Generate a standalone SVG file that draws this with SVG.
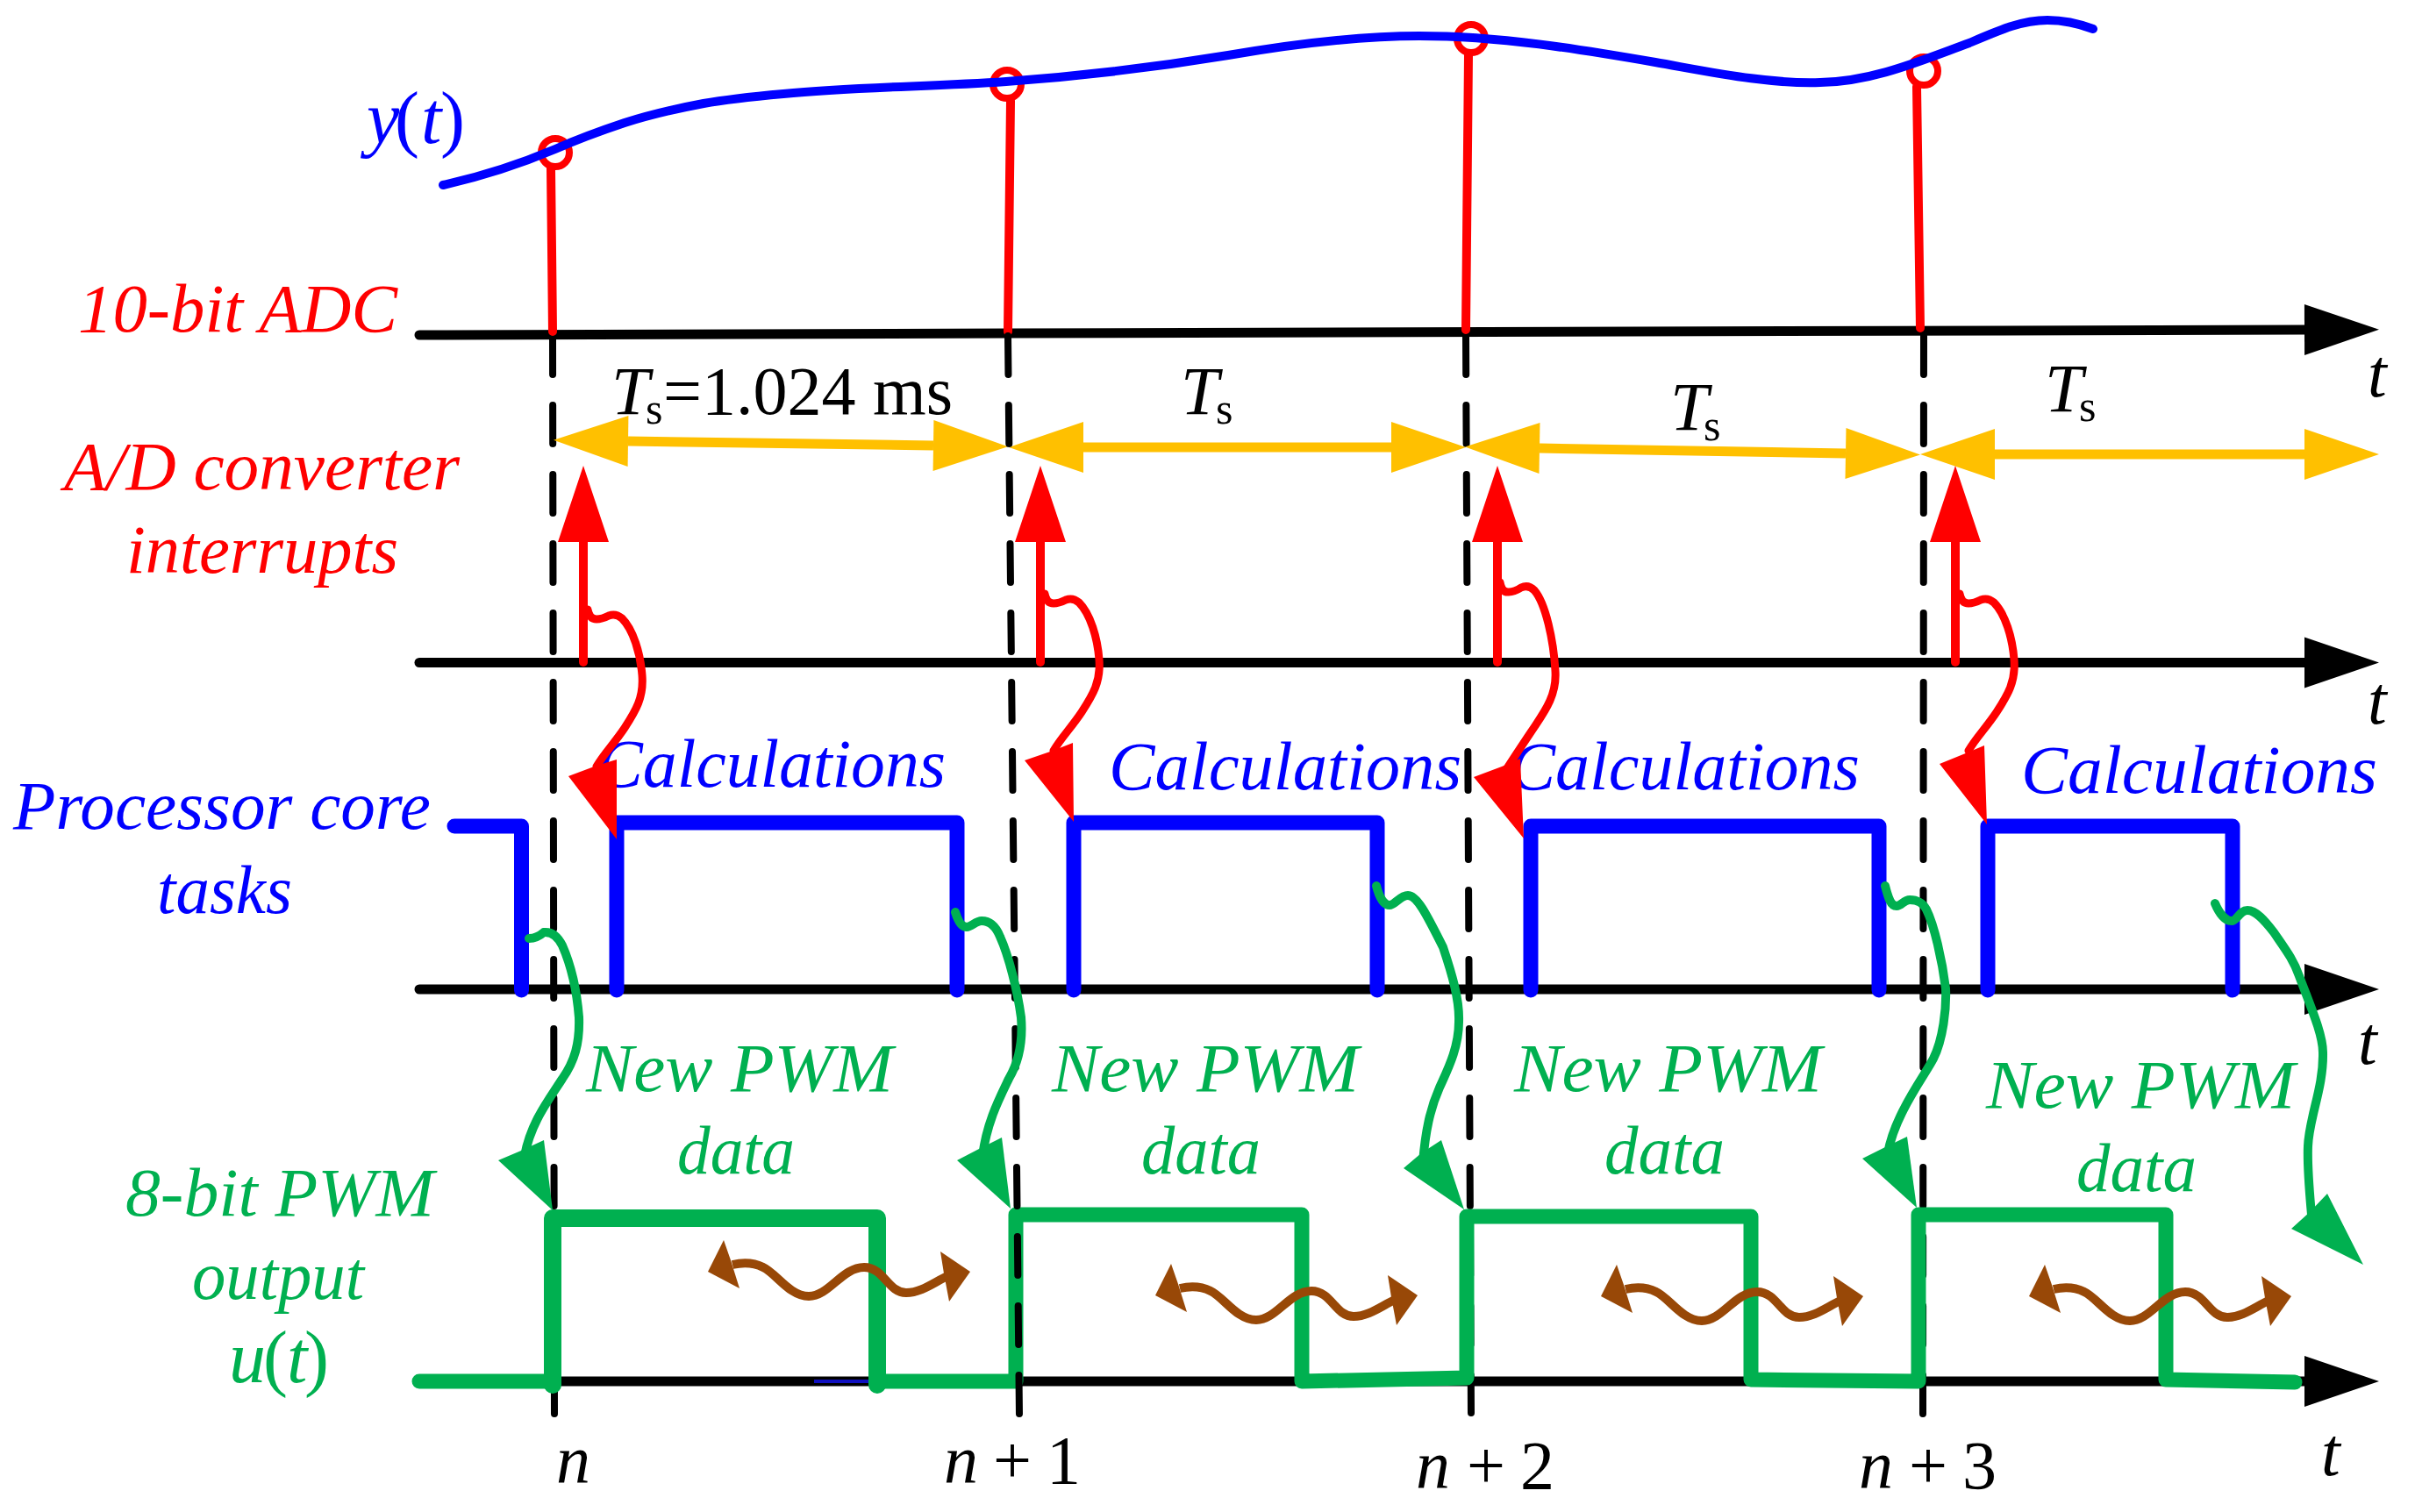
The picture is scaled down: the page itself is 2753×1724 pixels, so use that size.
<svg xmlns="http://www.w3.org/2000/svg" width="2753" height="1724" viewBox="0 0 2753 1724">
<style>
text{font-family:"Liberation Serif","Times New Roman",serif;font-size:78px;font-style:italic}
.up{font-style:normal}
.fn{font-size:84px}
.sub{font-size:50px;font-style:normal}
.bk{fill:#000}.rd{fill:#f00}.bl{fill:#00f}.gr{fill:#00b050}
.axis{fill:none;stroke:#000;stroke-width:11;stroke-linecap:round}
.dash{fill:none;stroke:#000;stroke-width:8;stroke-dasharray:44 35;stroke-linecap:round}
.stem{fill:none;stroke:#f00;stroke-width:10;stroke-linecap:round}
.ring{fill:none;stroke:#f00;stroke-width:8}
.rcurve{fill:none;stroke:#f00;stroke-width:9;stroke-linecap:round}
.gcurve{fill:none;stroke:#00b050;stroke-width:10;stroke-linecap:round}
.orange{fill:none;stroke:#ffc000;stroke-width:11;marker-start:url(#oh);marker-end:url(#oh)}
.rup{fill:none;stroke:#f00;stroke-width:10;stroke-linecap:round;marker-end:url(#ru)}
.task{fill:none;stroke:#00f;stroke-width:17;stroke-linejoin:round;stroke-linecap:round}
.pwm{fill:none;stroke:#00b050;stroke-width:17;stroke-linejoin:round;stroke-linecap:round}
</style>
<defs>
<marker id="ah" markerUnits="userSpaceOnUse" markerWidth="85" markerHeight="60" refX="0" refY="29" orient="auto" overflow="visible"><polygon points="0,0 85,29 0,58" fill="#000"/></marker>
<marker id="oh" markerUnits="userSpaceOnUse" markerWidth="85" markerHeight="60" refX="0" refY="29" orient="auto-start-reverse" overflow="visible"><polygon points="0,0 85,29 0,58" fill="#ffc000"/></marker>
<marker id="ru" markerUnits="userSpaceOnUse" markerWidth="90" markerHeight="60" refX="0" refY="29" orient="auto" overflow="visible"><polygon points="0,0 87,29 0,58" fill="#f00"/></marker>
<g id="wave">
<path d="M835 1442C848 1439 860 1440 870 1445C885 1452 900 1478 922 1478C945 1478 960 1445 985 1445C1008 1445 1012 1474 1033 1474C1050 1474 1065 1462 1080 1455" fill="none" stroke="#984807" stroke-width="10"/>
<polygon points="825,1414 807,1450 843,1469 833,1437" fill="#984807"/>
<polygon points="1106,1450 1072,1427 1076,1452 1082,1484" fill="#984807"/>
</g>
</defs>
<g id="guides-back">
<path class="dash" d="M630 383L632 1614"/>
<path class="dash" d="M1671 383L1677 1611"/>
<path class="dash" d="M2193 383L2192 1615"/>
</g>
<g id="axes">
<path class="axis" d="M478 382L1150 380L2627 376" marker-end="url(#ah)"/>
<path class="axis" d="M478 755.500L2627 755.500" marker-end="url(#ah)"/>
<path class="axis" d="M478 1128L2627 1128" marker-end="url(#ah)"/>
<path class="axis" d="M478 1575L2627 1575" marker-end="url(#ah)"/>
<path d="M928 1575H991" fill="none" stroke="#1010c0" stroke-width="4"/>
</g>
<g id="adc-samples">
<path class="stem" d="M628 192L630 378"/><circle class="ring" cx="633" cy="174" r="16"/>
<path class="stem" d="M1152 115L1149 378"/><circle class="ring" cx="1148" cy="96" r="16"/>
<path class="stem" d="M1674 63L1671 376"/><circle class="ring" cx="1677" cy="44" r="16"/>
<path class="stem" d="M2185 99L2189 374"/><circle class="ring" cx="2193" cy="81" r="16"/>
</g>
<g id="signal-y">
<path d="M505 211C550 201 595 186 633 170C660 158 685 149 712 140C740 131 770 124 802 118C830 113 860 110 893 107C975 99 1060 99 1147 93C1230 87 1315 77 1400 63C1475 50 1545 41 1618 41C1710 41 1800 56 1887 71C1950 82 2015 96 2075 94C2135 93 2190 69 2245 49C2280 34 2305 23 2334 23C2352 23 2370 27 2386 33" fill="none" stroke="#00f" stroke-width="10" stroke-linecap="round"/>
</g>
<g id="period-arrows">
<path class="orange" d="M716 503L1064 508"/>
<path class="orange" d="M1235 510L1586 510"/>
<path class="orange" d="M1755 511L2104 517"/>
<path class="orange" d="M2274 518L2627 518"/>
</g>
<g id="interrupts">
<path class="rup" d="M665 755V618"/>
<path class="rup" d="M1186 755V618"/>
<path class="rup" d="M1707 755V618"/>
<path class="rup" d="M2229 755V618"/>
</g>
<g id="task-wave">
<path class="task" d="M518 942H594.500V1129"/>
<path class="task" d="M703 1129V938H1091V1129"/>
<path class="task" d="M1224 1129V938H1570V1129"/>
<path class="task" d="M1745 1129V942H2142V1129"/>
<path class="task" d="M2266 1129V942H2545V1129"/>
</g>
<g id="pwm-wave">
<path class="pwm" d="M478 1575H630M1000 1575H1158V1385H1484V1575L1672 1571V1387H1996V1573L2187 1575V1385H2469V1573L2616 1576"/>
<path class="pwm" style="stroke-width:20" d="M630 1579V1389H1000V1579"/>
</g>
<g id="guide-front"><path class="dash" d="M1149 383L1162 1614"/></g>
<g id="labels">
<text class="rd" x="89" y="378" textLength="364" lengthAdjust="spacingAndGlyphs">10-bit ADC</text>
<text class="rd" x="73" y="558" textLength="451" lengthAdjust="spacingAndGlyphs">A/D converter</text>
<text class="rd" x="144" y="653" textLength="310" lengthAdjust="spacingAndGlyphs">interrupts</text>
<text class="bl fn" y="163"><tspan x="418">y</tspan><tspan class="up" x="450">(</tspan><tspan x="480">t</tspan><tspan class="up" x="502">)</tspan></text>
<text class="bl" x="15" y="945" textLength="476" lengthAdjust="spacingAndGlyphs">Processor core</text>
<text class="bl" x="179" y="1041" textLength="154" lengthAdjust="spacingAndGlyphs">tasks</text>
<text class="bl" x="681" y="897" textLength="397" lengthAdjust="spacingAndGlyphs">Calculations</text>
<text class="bl" x="1264" y="900" textLength="402" lengthAdjust="spacingAndGlyphs">Calculations</text>
<text class="bl" x="1721" y="900" textLength="399" lengthAdjust="spacingAndGlyphs">Calculations</text>
<text class="bl" x="2304" y="904" textLength="406" lengthAdjust="spacingAndGlyphs">Calculations</text>
<text class="gr" x="668" y="1244" textLength="350" lengthAdjust="spacingAndGlyphs">New PWM</text>
<text class="gr" x="772" y="1338" textLength="134" lengthAdjust="spacingAndGlyphs">data</text>
<text class="gr" x="1199" y="1244" textLength="350" lengthAdjust="spacingAndGlyphs">New PWM</text>
<text class="gr" x="1301" y="1338" textLength="136" lengthAdjust="spacingAndGlyphs">data</text>
<text class="gr" x="1726" y="1244" textLength="351" lengthAdjust="spacingAndGlyphs">New PWM</text>
<text class="gr" x="1829" y="1338" textLength="137" lengthAdjust="spacingAndGlyphs">data</text>
<text class="gr" x="2264" y="1263" textLength="352" lengthAdjust="spacingAndGlyphs">New PWM</text>
<text class="gr" x="2367" y="1358" textLength="137" lengthAdjust="spacingAndGlyphs">data</text>
<text class="gr" x="143" y="1386" textLength="352" lengthAdjust="spacingAndGlyphs">8-bit PWM</text>
<text class="gr" x="219" y="1481" textLength="196" lengthAdjust="spacingAndGlyphs">output</text>
<text class="gr fn" y="1576"><tspan x="261">u</tspan><tspan class="up" x="300">(</tspan><tspan x="327">t</tspan><tspan class="up" x="347">)</tspan></text>
<text class="bk" y="472"><tspan x="697">T</tspan><tspan class="sub" x="736" y="483">s</tspan><tspan class="up" x="756" y="472">=1.024 ms</tspan></text>
<text class="bk" y="472"><tspan x="1346">T</tspan><tspan class="sub" x="1386" y="483">s</tspan></text>
<text class="bk" y="490"><tspan x="1904">T</tspan><tspan class="sub" x="1942" y="502">s</tspan></text>
<text class="bk" y="469"><tspan x="2331">T</tspan><tspan class="sub" x="2370" y="480">s</tspan></text>
<text class="bk" x="2699" y="452">t</text>
<text class="bk" x="2699" y="825">t</text>
<text class="bk" x="2688" y="1213">t</text>
<text class="bk" x="2646" y="1682">t</text>
<text class="bk" x="634" y="1691">n</text>
<text class="bk" y="1691"><tspan x="1076">n</tspan><tspan class="up" x="1132">+</tspan><tspan class="up" x="1193">1</tspan></text>
<text class="bk" y="1697"><tspan x="1614">n</tspan><tspan class="up" x="1672">+</tspan><tspan class="up" x="1733">2</tspan></text>
<text class="bk" y="1697"><tspan x="2119">n</tspan><tspan class="up" x="2176">+</tspan><tspan class="up" x="2237">3</tspan></text>
</g>
<g id="connectors">
<path class="rcurve" d="M670 695Q672 706 680 706Q686 706 694 702Q702 699 709 705C722 718 730 745 732 770C734 795 725 810 712 830C700 848 688 860 680 874"/>
<polygon points="703,957 648,885 680,873 703,866" fill="#f00"/>
<path class="rcurve" transform="translate(521,-18)" d="M670 695Q672 706 680 706Q686 706 694 702Q702 699 709 705C722 718 730 745 732 770C734 795 725 810 712 830C700 848 688 860 680 874"/>
<polygon points="1224,937 1168,867 1200,856 1223,847" fill="#f00"/>
<path class="rcurve" d="M1710 664Q1712 676 1720 675Q1726 675 1734 670Q1742 666 1749 673C1762 688 1771 730 1773 765C1775 795 1758 815 1745 835C1733 853 1725 865 1718 876"/>
<polygon points="1737,956 1680,886 1712,874 1733,865" fill="#f00"/>
<path class="rcurve" transform="translate(1564,-18)" d="M670 695Q672 706 680 706Q686 706 694 702Q702 699 709 705C722 718 730 745 732 770C734 795 725 810 712 830C700 848 688 860 680 874"/>
<polygon points="2265,940 2211,871 2243,858 2262,850" fill="#f00"/>
<path class="gcurve" d="M603 1070Q612 1070 620 1063C630 1062 637 1070 641 1078C652 1103 658 1135 660 1160C661 1190 655 1210 641 1230C625 1255 605 1280 598 1318"/>
<polygon points="630,1380 568,1323 594,1312 620,1300" fill="#00b050"/>
<path class="gcurve" d="M1089 1040C1092 1050 1096 1057 1102 1057C1108 1057 1112 1050 1119 1050C1130 1050 1136 1058 1140 1068C1150 1090 1160 1130 1164 1160C1166 1185 1162 1210 1150 1230C1138 1255 1125 1280 1120 1318"/>
<polygon points="1152,1378 1091,1323 1116,1310 1142,1297" fill="#00b050"/>
<path class="gcurve" d="M1569 1010C1572 1022 1577 1032 1584 1032C1590 1032 1596 1021 1605 1021C1615 1021 1625 1040 1645 1080C1655 1110 1664 1140 1663 1165C1663 1195 1650 1220 1641 1240C1630 1265 1625 1290 1622 1325"/>
<polygon points="1669,1379 1600,1332 1620,1315 1643,1300" fill="#00b050"/>
<path class="gcurve" d="M2149 1010C2152 1022 2155 1033 2162 1033C2168 1033 2170 1026 2177 1026C2187 1026 2192 1030 2196 1037C2205 1055 2214 1095 2218 1127C2219 1150 2215 1185 2204 1207C2195 1225 2160 1270 2152 1315"/>
<polygon points="2185,1377 2123,1321 2149,1308 2174,1296" fill="#00b050"/>
<path class="gcurve" d="M2525 1030C2530 1042 2537 1050 2544 1050C2550 1050 2553 1038 2562 1038C2572 1038 2582 1050 2592 1063C2605 1082 2615 1095 2621 1113C2635 1150 2648 1180 2648 1200C2649 1240 2632 1275 2631 1307C2630 1330 2632 1350 2635 1385"/>
<polygon points="2694,1442 2612,1401 2633,1382 2653,1361" fill="#00b050"/>
<use href="#wave"/>
<use href="#wave" x="510" y="27"/>
<use href="#wave" x="1018" y="28"/>
<use href="#wave" x="1506" y="28"/>
</g>
</svg>
